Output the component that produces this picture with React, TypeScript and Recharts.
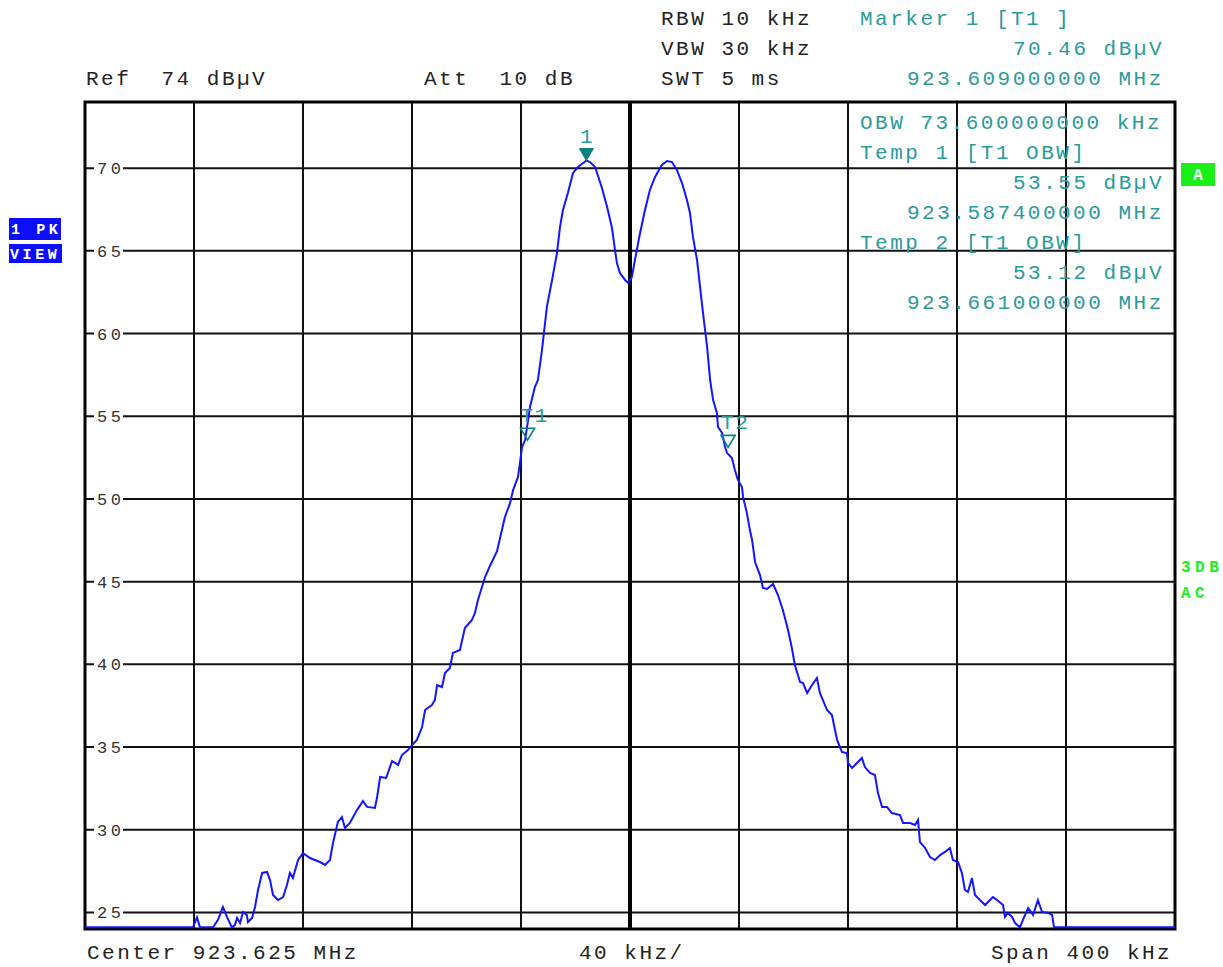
import React from "react";
import {
  LineChart,
  Line,
  XAxis,
  YAxis,
  CartesianGrid,
  ReferenceLine,
  ReferenceArea,
  ReferenceDot,
} from "recharts";

// trace: frequency (MHz) and level (dBµV)
const freqs = [
  923.425, 923.4646, 923.4661, 923.4672, 923.472, 923.4738, 923.4756, 923.4771,
  923.4789, 923.48, 923.4808, 923.4819, 923.483, 923.4844, 923.4848, 923.4863,
  923.4874, 923.4885, 923.49, 923.4918, 923.4929, 923.494, 923.4958, 923.4977,
  923.4991, 923.5002, 923.5013, 923.5032, 923.505, 923.5076, 923.5112, 923.5131,
  923.5149, 923.516, 923.5178, 923.5193, 923.5204, 923.5222, 923.5248, 923.527,
  923.5285, 923.5314, 923.5322, 923.5333, 923.5355, 923.5377, 923.5399, 923.5413,
  923.5435, 923.545, 923.5468, 923.5487, 923.5498, 923.5523, 923.5534, 923.5542,
  923.556, 923.5571, 923.5589, 923.56, 923.5626, 923.5644, 923.567, 923.5681,
  923.5692, 923.5718, 923.5736, 923.5762, 923.578, 923.5791, 923.581, 923.5821,
  923.5839, 923.5846, 923.5854, 923.5865, 923.5876, 923.5883, 923.5901, 923.5912,
  923.5927, 923.5945, 923.5964, 923.5982, 923.5993, 923.6004, 923.6022, 923.6041,
  923.6059, 923.609, 923.6103, 923.6122, 923.6147, 923.6166, 923.6184, 923.6195,
  923.6202, 923.6213, 923.6232, 923.6243, 923.6257, 923.6268, 923.6287, 923.6305,
  923.6323, 923.6342, 923.6367, 923.6386, 923.6404, 923.6422, 923.6441, 923.6459,
  923.647, 923.6481, 923.6496, 923.6507, 923.6518, 923.6533, 923.6544, 923.6555,
  923.6569, 923.6573, 923.6588, 923.6599, 923.6606, 923.6624, 923.6635, 923.6646,
  923.6661, 923.6665, 923.6679, 923.669, 923.6698, 923.6709, 923.6727, 923.6738,
  923.6753, 923.6775, 923.6793, 923.6811, 923.683, 923.6844, 923.6855, 923.6874,
  923.6885, 923.69, 923.6918, 923.6936, 923.6947, 923.6973, 923.6991, 923.701,
  923.7028, 923.7046, 923.705, 923.7065, 923.7083, 923.7101, 923.7112, 923.7131,
  923.7149, 923.716, 923.7175, 923.7193, 923.7211, 923.7241, 923.7252, 923.7278,
  923.7296, 923.7307, 923.7314, 923.7333, 923.7351, 923.7369, 923.7388, 923.7406,
  923.7424, 923.7435, 923.7454, 923.7468, 923.7479, 923.749, 923.7505, 923.7516,
  923.7534, 923.7553, 923.7571, 923.7582, 923.7597, 923.7619, 923.7626, 923.7637,
  923.7652, 923.7663, 923.7681, 923.7692, 923.7711, 923.7729, 923.7747, 923.7762,
  923.7784, 923.7799, 923.7806, 923.825,
];

const levels = [
  24.1, 24.1, 24.7, 24.1, 24.1, 24.55, 25.33, 24.73,
  24.1, 24.24, 24.67, 24.36, 25.03, 24.85, 24.42, 24.67,
  25.33, 26.36, 27.39, 27.45, 26.96, 26.06, 25.75, 25.93,
  26.66, 27.39, 27.08, 28.17, 28.59, 28.29, 28.05, 27.87,
  28.17, 29.2, 30.47, 30.77, 30.11, 30.41, 31.19, 31.74,
  31.38, 31.32, 31.98, 33.19, 33.13, 34.16, 33.92, 34.52,
  34.82, 35.12, 35.43, 36.21, 37.24, 37.54, 37.85, 38.75,
  38.63, 39.48, 39.78, 40.69, 40.87, 42.2, 42.68, 43.11,
  43.89, 45.28, 45.95, 46.85, 48.12, 48.91, 49.76, 50.54,
  51.33, 52.17, 53.14, 53.56, 54.77, 55.56, 56.77, 57.19,
  59.01, 61.61, 63.24, 64.87, 66.44, 67.47, 68.5, 69.71,
  70.07, 70.46, 70.37, 70.07, 68.8, 67.65, 66.38, 65.05,
  64.27, 63.66, 63.24, 63.06, 63.42, 64.45, 66.08, 67.47,
  68.68, 69.47, 70.19, 70.43, 70.37, 69.89, 69.1, 68.07,
  67.29, 65.84, 64.45, 62.82, 61.24, 59.19, 57.19, 55.98,
  55.2, 54.35, 53.99, 53.14, 52.78, 52.48, 51.75, 51.15,
  50.72, 50.12, 49.15, 48.12, 47.52, 46.19, 45.4, 44.62,
  44.56, 44.86, 44.19, 43.29, 42.08, 40.99, 39.96, 38.93,
  38.87, 38.27, 38.75, 39.18, 38.27, 37.24, 36.94, 35.43,
  34.7, 34.64, 34.04, 33.73, 34.04, 34.34, 33.79, 33.43,
  33.31, 32.22, 31.38, 31.38, 31.01, 30.89, 30.41, 30.41,
  30.29, 30.59, 29.26, 28.9, 28.35, 28.17, 28.47, 28.66,
  28.9, 28.17, 28.05, 27.39, 26.36, 26.24, 27.08, 26.06,
  25.75, 25.45, 25.75, 25.93, 25.75, 25.45, 24.73, 24.97,
  24.73, 24.36, 24.1, 24.55, 25.27, 24.85, 25.75, 25.03,
  24.97, 24.85, 24.1, 24.1,
];

const freqTicks = [
  923.425, 923.465, 923.505, 923.545, 923.585, 923.625, 923.665, 923.705,
  923.745, 923.785, 923.825,
];
const levelTicks = [25, 30, 35, 40, 45, 50, 55, 60, 65, 70];

const markerNames = ["1", "T1", "T2"];
const markerFreqs = [923.609, 923.5874, 923.661];
const markerLevels = [70.46, 53.55, 53.12];

const data = freqs.map((f, i) => ({ f, level: levels[i] }));

const INK = "#222";
const TEAL = "#2a9a9a";
const MONO = "'Liberation Mono', 'DejaVu Sans Mono', monospace";

// screen annotations around the trace
const texts = [
  { t: "RBW 10 kHz", x: 661, y: 25, c: INK },
  { t: "VBW 30 kHz", x: 661, y: 55, c: INK },
  { t: "SWT 5 ms", x: 661, y: 85, c: INK },
  { t: "Ref  74 dBµV", x: 86, y: 85, c: INK },
  { t: "Att  10 dB", x: 424, y: 85, c: INK },
  { t: "Marker 1 [T1 ]", x: 860, y: 25, c: TEAL },
  { t: "70.46 dBµV", x: 1013, y: 55, c: TEAL },
  { t: "923.609000000 MHz", x: 907, y: 85, c: TEAL },
  { t: "OBW 73.600000000 kHz", x: 860, y: 129, c: TEAL },
  { t: "Temp 1 [T1 OBW]", x: 860, y: 159, c: TEAL },
  { t: "53.55 dBµV", x: 1013, y: 189, c: TEAL },
  { t: "923.587400000 MHz", x: 907, y: 219, c: TEAL },
  { t: "Temp 2 [T1 OBW]", x: 860, y: 249, c: TEAL },
  { t: "53.12 dBµV", x: 1013, y: 279, c: TEAL },
  { t: "923.661000000 MHz", x: 907, y: 309, c: TEAL },
  { t: "Center 923.625 MHz", x: 87, y: 959, c: INK },
  { t: "40 kHz/", x: 579, y: 959, c: INK },
  { t: "Span 400 kHz", x: 991, y: 959, c: INK },
];

function LevelTick(props: any) {
  const { x, y, payload } = props;
  return (
    <g>
      <rect x={x - 3} y={y - 9} width={29} height={18} fill="#fff" />
      <text
        x={x}
        y={y + 6}
        fill="#333"
        fontSize={17}
        fontFamily={MONO}
        letterSpacing={3.5}
      >
        {payload.value}
      </text>
    </g>
  );
}

function markerShape(name: string, filled: boolean) {
  return (p: any) => {
    const { cx, cy } = p;
    return (
      <g>
        <polygon
          points={`${cx - 7},${cy - 12} ${cx + 7},${cy - 12} ${cx},${cy}`}
          fill={filled ? "#0a8080" : "none"}
          stroke="#0a8080"
          strokeWidth={filled ? 1 : 1.6}
        />
        <text
          x={filled ? cx : cx - 7}
          y={cy - 18}
          textAnchor={filled ? "middle" : "start"}
          fill={TEAL}
          fontSize={21}
          fontFamily={MONO}
          letterSpacing={filled ? 0 : 1.5}
        >
          {name}
        </text>
      </g>
    );
  };
}

export default function App() {
  return (
    <div
      style={{
        position: "absolute",
        left: 0,
        top: 0,
        width: 1223,
        height: 967,
        background: "#fff",
      }}
    >
      <LineChart
        width={1223}
        height={967}
        data={data}
        margin={{ top: 102, left: 85, right: 48, bottom: 38 }}
      >
        <XAxis
          dataKey="f"
          type="number"
          domain={[923.425, 923.825]}
          ticks={freqTicks}
          allowDataOverflow
          hide
        />
        <YAxis
          type="number"
          domain={[24, 74]}
          ticks={levelTicks}
          allowDataOverflow
          mirror
          axisLine={false}
          tickLine={false}
          tickSize={0}
          tickMargin={12}
          tick={<LevelTick />}
          interval={0}
        />
        <CartesianGrid stroke="#111" strokeWidth={2} />
        <ReferenceLine x={923.625} stroke="#000" strokeWidth={4} />
        <ReferenceArea
          x1={923.425}
          x2={923.825}
          y1={24}
          y2={74}
          fill="none"
          stroke="#000"
          strokeWidth={3}
        />
        <Line
          type="linear"
          dataKey="level"
          stroke="#1414ff"
          strokeWidth={2}
          dot={false}
          isAnimationActive={false}
        />
        {markerNames.map((n, i) => (
          <ReferenceDot
            key={n}
            x={markerFreqs[i]}
            y={markerLevels[i]}
            shape={markerShape(n, i === 0)}
          />
        ))}
      </LineChart>

      <svg
        width={1223}
        height={967}
        style={{ position: "absolute", left: 0, top: 0, pointerEvents: "none" }}
      >
        {texts.map((d) => (
          <text
            key={d.t + d.y}
            x={d.x}
            y={d.y}
            fill={d.c}
            fontSize={21}
            fontFamily={MONO}
            letterSpacing={2.5}
            style={{ whiteSpace: "pre" }}
          >
            {d.t}
          </text>
        ))}
        <rect x={9} y={218} width={52} height={22} fill="#0d0dff" />
        <text x={11} y={234} fill="#fff" fontSize={15} fontWeight="bold" fontFamily={MONO} letterSpacing={3.6} style={{ whiteSpace: "pre" }}>
          1 PK
        </text>
        <rect x={9} y={244} width={53} height={19} fill="#0d0dff" />
        <text x={10} y={259} fill="#fff" fontSize={15} fontWeight="bold" fontFamily={MONO} letterSpacing={3.6}>
          VIEW
        </text>
        <rect x={1181} y={163} width={34} height={23} fill="#1aef1a" />
        <text x={1198} y={180} textAnchor="middle" fill="#fff" fontSize={16} fontWeight="bold" fontFamily={MONO}>
          A
        </text>
        <text x={1181} y={572} fill="#1aef1a" fontSize={16} fontWeight="bold" fontFamily={MONO} letterSpacing={4.5}>
          3DB
        </text>
        <text x={1181} y={598} fill="#1aef1a" fontSize={16} fontWeight="bold" fontFamily={MONO} letterSpacing={4.5}>
          AC
        </text>
      </svg>
    </div>
  );
}
